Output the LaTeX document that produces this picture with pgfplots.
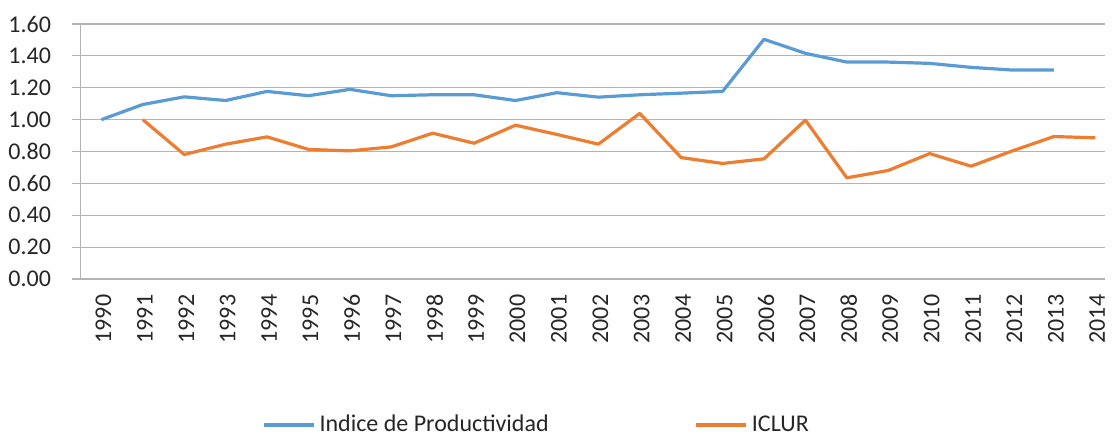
\documentclass[border=0pt]{standalone}
\usepackage{fontspec}
\setmainfont{Carlito}
\usepackage{pgfplots}
\pgfplotsset{compat=1.18}
\definecolor{cblue}{HTML}{5B9BD5}
\definecolor{corange}{HTML}{ED7D31}
\definecolor{cgrid}{HTML}{B3B3B3}
\definecolor{ctext}{HTML}{262626}
\begin{document}
\begin{tikzpicture}
\path[use as bounding box] (-40.35pt,-80pt) rectangle (515.6pt,139.5pt);
\begin{axis}[
  scale only axis,
  width=512pt, height=127.5pt,
  xmin=-0.5, xmax=24.23,
  ymin=0, ymax=1.6,
  ytick={0,0.2,...,1.6},
  axis x line*=bottom, axis y line*=left,
  axis line style={cgrid, line width=0.6pt},
  ymajorgrids,
  grid style={cgrid, line width=0.6pt},
  tick align=outside,
  ytick style={cgrid, line width=0.6pt},
  major tick length=4.3pt,
  xtick={0,...,24},
  xticklabels={1990,1991,1992,1993,1994,1995,1996,1997,1998,1999,2000,2001,2002,2003,2004,2005,2006,2007,2008,2009,2010,2011,2012,2013,2014},
  x tick style={draw=none},
  minor xtick={-0.5,0.5,...,23.5},
  minor tick length=4.3pt,
  minor x tick style={cgrid, line width=0.6pt},
  xticklabel style={rotate=90, anchor=east, font=\fontsize{12}{14}\selectfont, text=ctext, xshift=0pt, yshift=-1pt},
  yticklabel style={/pgf/number format/fixed, /pgf/number format/fixed zerofill, /pgf/number format/precision=2, font=\fontsize{12}{14}\selectfont, text=ctext, xshift=-7pt},
  /pgf/number format/assume math mode=true,
  legend columns=2,
  legend style={at={(axis description cs:0.177,-0.572)}, anchor=west, draw=none, fill=none,
    font=\fontsize{12}{14}\selectfont, text=ctext, inner sep=0pt,
    /tikz/every even column/.append style={column sep=71pt}},
  legend image code/.code={\draw[#1] (0pt,0pt) -- (25pt,0pt);},
]
\addplot[cblue, line width=1.6pt, line join=round] coordinates {
(0,1.00) (1,1.095) (2,1.143) (3,1.12) (4,1.177) (5,1.15) (6,1.19) (7,1.15) (8,1.156) (9,1.156)
(10,1.12) (11,1.169) (12,1.141) (13,1.156) (14,1.166) (15,1.177) (16,1.504) (17,1.416) (18,1.361)
(19,1.361) (20,1.353) (21,1.328) (22,1.311) (23,1.311)};
\addlegendentry{Indice de Productividad}
\addplot[corange, line width=1.6pt, line join=round] coordinates {
(1,1.00) (2,0.781) (3,0.846) (4,0.892) (5,0.813) (6,0.804) (7,0.829) (8,0.915) (9,0.852) (10,0.965)
(11,0.907) (12,0.846) (13,1.039) (14,0.762) (15,0.725) (16,0.754) (17,0.997) (18,0.635) (19,0.681)
(20,0.787) (21,0.708) (22,0.804) (23,0.894) (24,0.886)};
\addlegendentry{ICLUR}
\end{axis}
\end{tikzpicture}
\end{document}
